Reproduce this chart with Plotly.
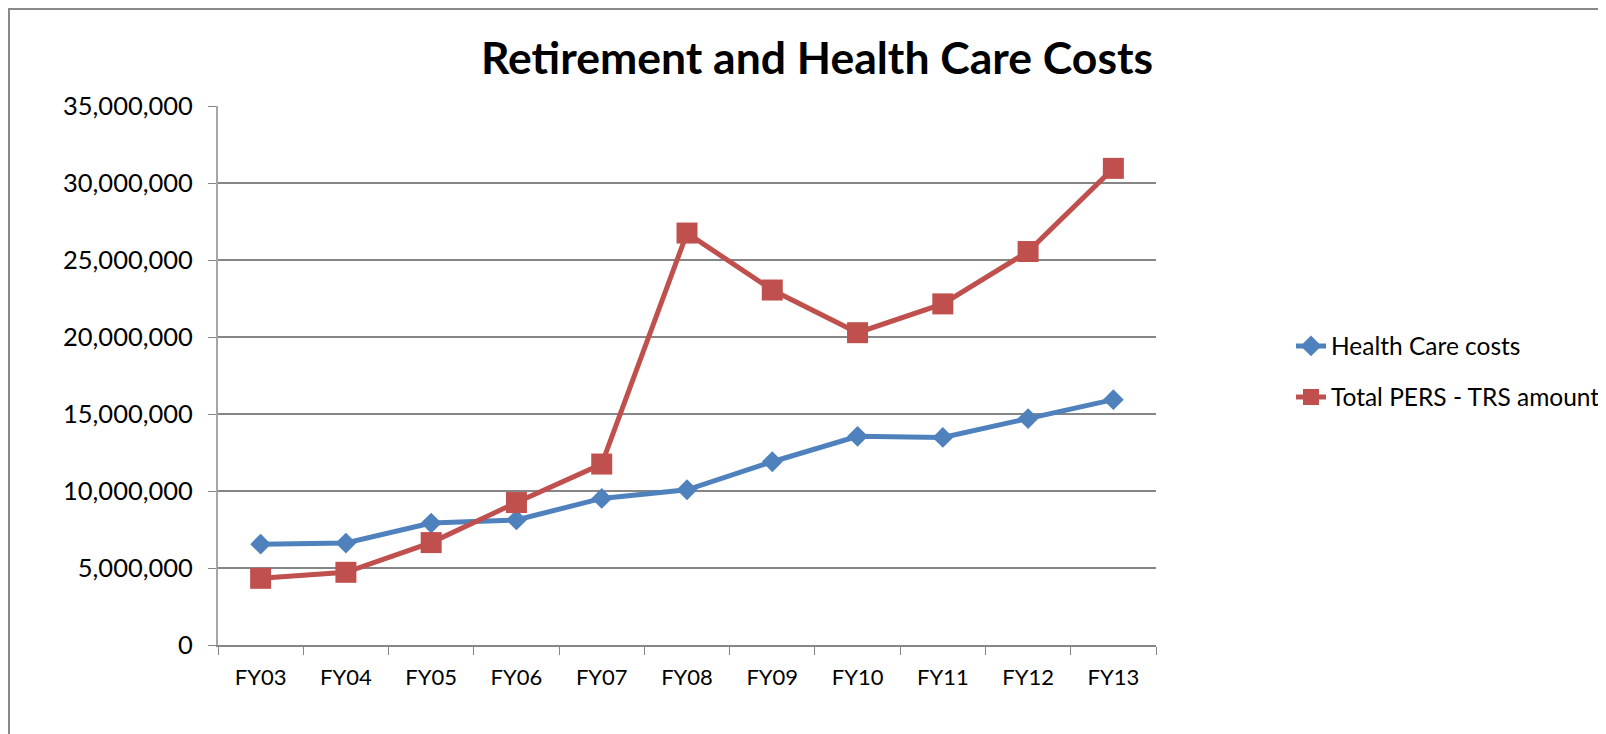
import plotly.graph_objects as go

# データ
fiscal_years = ["FY03", "FY04", "FY05", "FY06", "FY07", "FY08", "FY09", "FY10", "FY11", "FY12", "FY13"]
health_care_costs = [6550000, 6620000, 7920000, 8120000, 9520000, 10080000,
                     11900000, 13550000, 13480000, 14700000, 15930000]
pers_trs_amount = [4330000, 4720000, 6650000, 9250000, 11750000, 26750000,
                   23050000, 20280000, 22150000, 25550000, 30950000]
y_ticks = [0, 5000000, 10000000, 15000000, 20000000, 25000000, 30000000, 35000000]

# ページ余白(8px)を差し引いた座標
OFF = 8
W, H = 1606 - OFF, 734 - OFF
L, R, T, B = 218 - OFF, 1156 - OFF, 106 - OFF, 645 - OFF
PW, PH = R - L, B - T
FONT = "Lato"
GRID = "#868686"


def px_x(p):
    return (p - OFF - L) / PW


def px_y(p):
    return (B - (p - OFF)) / PH


fig = go.Figure()

fig.add_trace(go.Scatter(
    x=fiscal_years, y=health_care_costs,
    mode="lines+markers", name="Health Care costs",
    line=dict(color="#4F81BD", width=5),
    marker=dict(symbol="diamond", size=16, color="#4F81BD"),
    legend="legend",
))

fig.add_trace(go.Scatter(
    x=fiscal_years, y=pers_trs_amount,
    mode="lines+markers", name="Total PERS - TRS amount",
    line=dict(color="#C0504D", width=5),
    marker=dict(symbol="square", size=21, color="#C0504D"),
    legend="legend2",
))

legend_style = dict(
    xanchor="left", yanchor="middle",
    font=dict(family=FONT, size=24.5, color="#000000"),
    bgcolor="rgba(0,0,0,0)", borderwidth=0,
)

fig.update_layout(
    width=W, height=H,
    showlegend=True,
    margin=dict(l=L, r=W - R, t=T, b=H - B, pad=0, autoexpand=False),
    paper_bgcolor="white", plot_bgcolor="white",
    font=dict(family=FONT, size=24, color="#000000"),
    title=dict(
        text="<b>Retirement and Health Care Costs</b>",
        x=(817 - OFF) / W, xanchor="center", xref="container",
        y=1 - (58 - OFF) / H, yanchor="middle", yref="container",
        font=dict(family=FONT, size=44.5, color="#000000"),
    ),
    legend=dict(x=px_x(1291), y=px_y(346), **legend_style),
    legend2=dict(x=px_x(1291), y=px_y(397), **legend_style),
    shapes=[
        dict(type="rect", xref="paper", yref="paper",
             x0=px_x(OFF + 1), x1=px_x(1640), y0=px_y(780), y1=px_y(OFF + 1),
             line=dict(color="#898989", width=2), fillcolor="rgba(0,0,0,0)", layer="below"),
    ],
)

fig.update_xaxes(
    type="category", range=[-0.5, 10.5],
    tickson="boundaries", ticks="outside", ticklen=8, tickcolor=GRID, tickwidth=1,
    showline=True, linecolor=GRID, linewidth=2,
    showgrid=False, ticklabelstandoff=12,
    tickfont=dict(family=FONT, size=22),
)

fig.update_yaxes(
    range=[0, 35000000], tickvals=y_ticks, tickformat=",d",
    ticks="outside", ticklen=8, tickcolor=GRID, tickwidth=1,
    showline=True, linecolor="#A6A6A6", linewidth=2,
    showgrid=True, gridcolor=GRID, gridwidth=2,
    zeroline=False, ticklabelstandoff=10,
    tickfont=dict(family=FONT, size=25.5),
)

fig.write_html("out.html")
